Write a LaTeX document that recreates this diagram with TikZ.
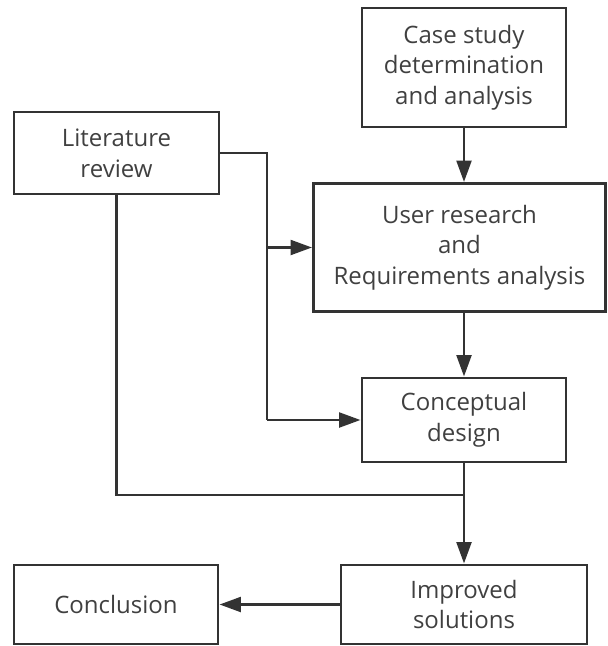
\documentclass[tikz,border=0pt]{standalone}
\usepackage{fontspec}
\setmainfont{Open Sans}
\usepackage{tikz}
\usetikzlibrary{arrows.meta}

\begin{document}
\begin{tikzpicture} [
    x=0.75pt, y=-0.75pt,
    every node/.style = {draw=black!80, line width=2.2pt, text=black!75, align=center,
        inner sep=0pt, font=\fontsize{18}{23}\selectfont},
    flow/.style = {draw=black!80, line width=2.2pt},
    arr/.style = {flow, -{Triangle[length=16pt, width=11pt]}}
]
    \useasboundingbox (0,0) rectangle (607,646);

    % boxes
    \node [minimum width=204*0.75pt, minimum height=119*0.75pt] (casestudy) at (464,67.5)
        {Case study\\determination\\and analysis};
    \node [minimum width=205*0.75pt, minimum height=82*0.75pt] (litreview) at (116.5,153)
        {Literature\\review};
    \node [minimum width=292*0.75pt, minimum height=128*0.75pt] (userres) at (459.5,247.5)
        {User research\\and\\Requirements analysis};
    \node [minimum width=204*0.75pt, minimum height=84*0.75pt] (concept) at (464,420)
        {Conceptual\\design};
    \node [minimum width=246*0.75pt, minimum height=79*0.75pt] (improved) at (464,604.5)
        {Improved\\solutions};
    \node [minimum width=204*0.75pt, minimum height=79*0.75pt] (conclusion) at (116,604.5)
        {Conclusion};

    % junctions
    \coordinate (litcorner) at (267,153);
    \coordinate (litjoin) at (464,495);

    % connectors
    \draw [arr] (casestudy.south) -- (casestudy.south |- userres.north);
    \draw [arr] (concept.north |- userres.south) -- (concept.north);
    \draw [flow] (litreview.east) -- (litcorner) -- (litcorner |- concept.west);
    \draw [arr] (litcorner |- concept.west) -- (concept.west);
    \draw [arr] (litcorner |- userres.west) -- (userres.west);
    \draw [flow] (litreview.south) -- (litreview.south |- litjoin) -- (litjoin);
    \draw [arr] (concept.south) -- (improved.north);
    \draw [arr] (improved.west) -- (conclusion.east);
\end{tikzpicture}
\end{document}
